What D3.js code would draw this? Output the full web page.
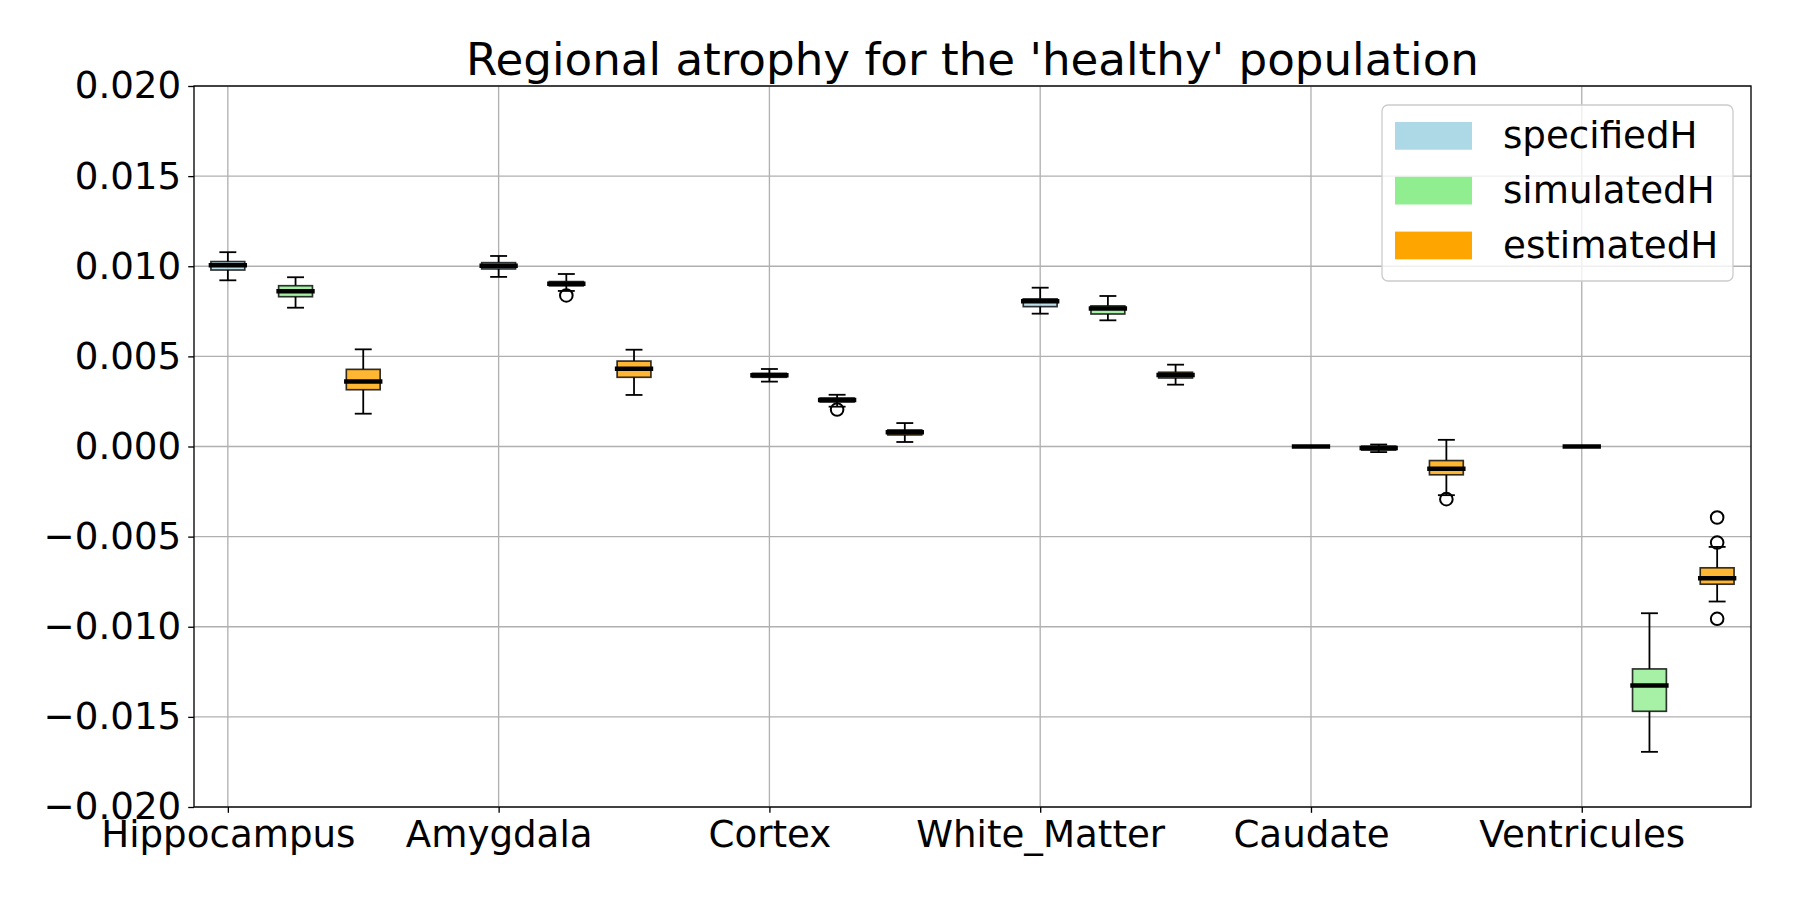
<!DOCTYPE html>
<html>
<head>
<meta charset="utf-8">
<script src="https://cdn.jsdelivr.net/npm/d3@7"></script>
<style>
	body { margin: 0; background: #fff; }
	svg { font-family: 'DejaVu Sans', sans-serif; }
</style>
</head>
<body>
<svg width="1800" height="900"></svg>
<script>
const regions = ['Hippocampus', 'Amygdala', 'Cortex', 'White_Matter', 'Caudate', 'Ventricules'];
const seriesNames = ['specifiedH', 'simulatedH', 'estimatedH'];
const seriesColors = ['#add8e6', '#90ee90', '#ffa500'];
const yTicks = [-0.020, -0.015, -0.010, -0.005, 0.000, 0.005, 0.010, 0.015, 0.020];

// [lower whisker, q1, median, q3, upper whisker] per region
const specifiedH = [
	[0.00922, 0.00979, 0.01006, 0.01026, 0.01078],
	[0.00941, 0.00985, 0.01003, 0.01020, 0.01057],
	[0.00360, 0.00384, 0.00395, 0.00406, 0.00430],
	[0.00737, 0.00776, 0.00806, 0.00819, 0.00881],
	[0, 0, 0, 0, 0],
	[0, 0, 0, 0, 0]
];
const simulatedH = [
	[0.00770, 0.00831, 0.00861, 0.00892, 0.00939],
	[0.00863, 0.00891, 0.00903, 0.00915, 0.00957],
	[0.00221, 0.00247, 0.00258, 0.00269, 0.00287],
	[0.00700, 0.00735, 0.00765, 0.00780, 0.00835],
	[-0.00031, -0.00020, -0.00009, 0.00002, 0.00011],
	[-0.01694, -0.01469, -0.01326, -0.01234, -0.00925]
];
const estimatedH = [
	[0.00182, 0.00315, 0.00360, 0.00428, 0.00539],
	[0.00286, 0.00384, 0.00432, 0.00474, 0.00537],
	[0.00025, 0.00064, 0.00079, 0.00092, 0.00130],
	[0.00343, 0.00380, 0.00397, 0.00412, 0.00454],
	[-0.00270, -0.00157, -0.00124, -0.00078, 0.00037],
	[-0.00860, -0.00764, -0.00731, -0.00673, -0.00557]
];
const specifiedOut = [[], [], [], [], [], []];
const simulatedOut = [[], [0.00838], [0.00205], [], [], []];
const estimatedOut = [[], [], [], [], [-0.00292], [-0.00394, -0.00533, -0.00956]];

let allStats = [specifiedH, simulatedH, estimatedH],
	allOut = [specifiedOut, simulatedOut, estimatedOut];

let svg = d3.select('svg'),
	margin = {top: 86, right: 49, bottom: 93, left: 194},
	width = +svg.attr('width') - margin.left - margin.right,
	height = +svg.attr('height') - margin.top - margin.bottom,
	g = svg.append('g').attr('transform', `translate(${margin.left}, ${margin.top})`);

let x = d3.scaleLinear().domain([-0.5, 22.5]).range([0, width]),
	y = d3.scaleLinear().domain([-0.02, 0.02]).range([height, 0]);

let boxW = x(0.5) - x(0),
	capW = x(0.25) - x(0),
	fontSize = 37.2;

// grid
g.append('g')
	.selectAll('line')
	.data(yTicks)
	.enter()
	.append('line')
	.attr('x1', 0).attr('x2', width)
	.attr('y1', d => y(d)).attr('y2', d => y(d))
	.attr('stroke', '#b0b0b0')
	.attr('stroke-width', 1.33);

g.append('g')
	.selectAll('line')
	.data(regions)
	.enter()
	.append('line')
	.attr('x1', (d, i) => x(4 * i)).attr('x2', (d, i) => x(4 * i))
	.attr('y1', 0).attr('y2', height)
	.attr('stroke', '#b0b0b0')
	.attr('stroke-width', 1.33);

// boxes
let boxes = [];
allStats.forEach((stats, k) => {
	stats.forEach((s, i) => {
		boxes.push({pos: 4 * i + k, s: s, out: allOut[k][i], color: seriesColors[k]});
	});
});

let bg = g.selectAll('g.box')
	.data(boxes)
	.enter()
	.append('g')
	.attr('class', 'box');

bg.append('line')
	.attr('x1', d => x(d.pos)).attr('x2', d => x(d.pos))
	.attr('y1', d => y(d.s[0])).attr('y2', d => y(d.s[1]))
	.attr('stroke', '#000').attr('stroke-width', 1.8);
bg.append('line')
	.attr('x1', d => x(d.pos)).attr('x2', d => x(d.pos))
	.attr('y1', d => y(d.s[3])).attr('y2', d => y(d.s[4]))
	.attr('stroke', '#000').attr('stroke-width', 1.8);
bg.append('line')
	.attr('x1', d => x(d.pos) - capW / 2).attr('x2', d => x(d.pos) + capW / 2)
	.attr('y1', d => y(d.s[0])).attr('y2', d => y(d.s[0]))
	.attr('stroke', '#000').attr('stroke-width', 1.8);
bg.append('line')
	.attr('x1', d => x(d.pos) - capW / 2).attr('x2', d => x(d.pos) + capW / 2)
	.attr('y1', d => y(d.s[4])).attr('y2', d => y(d.s[4]))
	.attr('stroke', '#000').attr('stroke-width', 1.8);
bg.append('rect')
	.attr('x', d => x(d.pos) - boxW / 2)
	.attr('width', boxW)
	.attr('y', d => y(d.s[3]))
	.attr('height', d => y(d.s[1]) - y(d.s[3]))
	.attr('fill', d => d.color)
	.attr('fill-opacity', 0.8)
	.attr('stroke', 'rgba(0,0,0,0.8)')
	.attr('stroke-width', 1.67);
bg.append('line')
	.attr('x1', d => x(d.pos) - boxW / 2).attr('x2', d => x(d.pos) + boxW / 2)
	.attr('y1', d => y(d.s[2])).attr('y2', d => y(d.s[2]))
	.attr('stroke', '#000').attr('stroke-width', 4.5)
	.attr('stroke-linecap', 'square');
bg.selectAll('circle')
	.data(d => d.out.map(v => ({pos: d.pos, v: v})))
	.enter()
	.append('circle')
	.attr('cx', d => x(d.pos))
	.attr('cy', d => y(d.v))
	.attr('r', 6.3)
	.attr('fill', 'none')
	.attr('stroke', '#000')
	.attr('stroke-width', 2);

// axes
let yAxis = g.append('g')
	.call(d3.axisLeft(y).tickValues(yTicks).tickFormat(d3.format('.3f')).tickSizeOuter(0).tickSize(5.8).tickPadding(7));
let xAxis = g.append('g')
	.attr('transform', `translate(0, ${height})`)
	.call(d3.axisBottom(x).tickValues(regions.map((d, i) => 4 * i)).tickFormat((d, i) => regions[i]).tickSizeOuter(0).tickSize(5.8).tickPadding(8));

[yAxis, xAxis].forEach(a => {
	a.select('.domain').remove();
	a.selectAll('.tick line').attr('stroke', '#000').attr('stroke-width', 1.33);
	a.selectAll('.tick text')
		.attr('fill', '#000')
		.style('font-size', fontSize + 'px')
		.style('font-family', "'DejaVu Sans', sans-serif");
});

g.append('rect')
	.attr('width', width)
	.attr('height', height)
	.attr('fill', 'none')
	.attr('stroke', '#000')
	.attr('stroke-width', 1.33);

// title
svg.append('text')
	.attr('x', margin.left + width / 2)
	.attr('y', 75)
	.attr('text-anchor', 'middle')
	.style('font-size', '45.2px')
	.text("Regional atrophy for the 'healthy' population");

// legend
let legend = svg.append('g').attr('transform', 'translate(1382, 105)');
legend.append('rect')
	.attr('width', 351)
	.attr('height', 176)
	.attr('rx', 6)
	.attr('fill', 'rgba(255,255,255,0.8)')
	.attr('stroke', '#cccccc')
	.attr('stroke-width', 1.33);

let items = legend.selectAll('g.item')
	.data(seriesNames)
	.enter()
	.append('g')
	.attr('class', 'item')
	.attr('transform', (d, i) => `translate(0, ${i * 54.8})`);
items.append('rect')
	.attr('x', 13).attr('y', 17)
	.attr('width', 77).attr('height', 27.7)
	.attr('fill', (d, i) => seriesColors[i]);
items.append('text')
	.attr('x', 121)
	.attr('y', 43)
	.style('font-size', fontSize + 'px')
	.text(d => d);
</script>
</body>
</html>
